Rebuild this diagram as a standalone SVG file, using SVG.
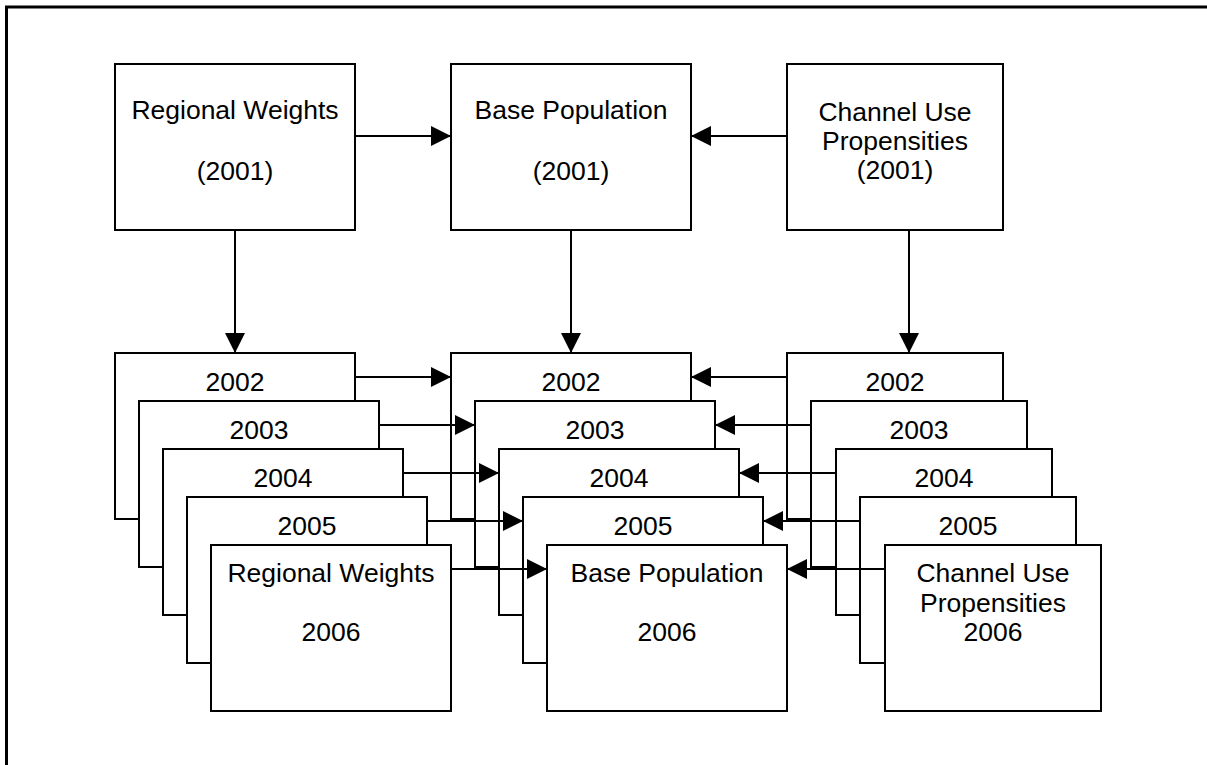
<svg xmlns="http://www.w3.org/2000/svg" width="1207" height="765" viewBox="0 0 1207 765">
<style>
.box{fill:#fff;stroke:#000;stroke-width:2}
.conn{stroke:#000;stroke-width:2;fill:none;marker-end:url(#ah)}
.frame{stroke:#000;stroke-width:3;fill:none}
text{font-family:"Liberation Sans",Arial,sans-serif;font-size:26.5px;text-anchor:middle;fill:#000}
</style>
<defs>
<marker id="ah" markerUnits="userSpaceOnUse" markerWidth="20" markerHeight="20" refX="20" refY="10" orient="auto" viewBox="0 0 20 20">
<path d="M0,0 L20,10 L0,20 z" fill="#000"/>
</marker>
</defs>
<rect width="1207" height="765" fill="#fff"/>
<path class="frame" d="M6.5,765 V7 H1207"/>

<g id="rw2001"><rect class="box" x="115" y="64" width="240" height="166"/><text x="235" y="119">Regional Weights</text><text x="235" y="180">(2001)</text></g>
<g id="bp2001"><rect class="box" x="451" y="64" width="240" height="166"/><text x="571" y="119">Base Population</text><text x="571" y="180">(2001)</text></g>
<g id="cup2001"><rect class="box" x="787" y="64" width="216" height="166"/><text x="895" y="121">Channel Use</text><text x="895" y="150">Propensities</text><text x="895" y="179">(2001)</text></g>

<g id="rw2002"><rect class="box" x="115" y="353" width="240" height="166"/><text x="235" y="390.5">2002</text></g>
<g id="rw2003"><rect class="box" x="139" y="401" width="240" height="166"/><text x="259" y="438.5">2003</text></g>
<g id="rw2004"><rect class="box" x="163" y="449" width="240" height="166"/><text x="283" y="486.5">2004</text></g>
<g id="rw2005"><rect class="box" x="187" y="497" width="240" height="166"/><text x="307" y="534.5">2005</text></g>
<g id="rw2006"><rect class="box" x="211" y="545" width="240" height="166"/><text x="331" y="582">Regional Weights</text><text x="331" y="641">2006</text></g>

<g id="bp2002"><rect class="box" x="451" y="353" width="240" height="166"/><text x="571" y="390.5">2002</text></g>
<g id="bp2003"><rect class="box" x="475" y="401" width="240" height="166"/><text x="595" y="438.5">2003</text></g>
<g id="bp2004"><rect class="box" x="499" y="449" width="240" height="166"/><text x="619" y="486.5">2004</text></g>
<g id="bp2005"><rect class="box" x="523" y="497" width="240" height="166"/><text x="643" y="534.5">2005</text></g>
<g id="bp2006"><rect class="box" x="547" y="545" width="240" height="166"/><text x="667" y="582">Base Population</text><text x="667" y="641">2006</text></g>

<g id="cup2002"><rect class="box" x="787" y="353" width="216" height="166"/><text x="895" y="390.5">2002</text></g>
<g id="cup2003"><rect class="box" x="811" y="401" width="216" height="166"/><text x="919" y="438.5">2003</text></g>
<g id="cup2004"><rect class="box" x="836" y="449" width="216" height="166"/><text x="944" y="486.5">2004</text></g>
<g id="cup2005"><rect class="box" x="860" y="497" width="216" height="166"/><text x="968" y="534.5">2005</text></g>
<g id="cup2006"><rect class="box" x="885" y="545" width="216" height="166"/><text x="993" y="582">Channel Use</text><text x="993" y="611.5">Propensities</text><text x="993" y="641">2006</text></g>

<g id="connectors">
<line class="conn" x1="355" y1="136" x2="451" y2="136"/>
<line class="conn" x1="787" y1="136" x2="691" y2="136"/>
<line class="conn" x1="235" y1="230" x2="235" y2="353"/>
<line class="conn" x1="571" y1="230" x2="571" y2="353"/>
<line class="conn" x1="909" y1="230" x2="909" y2="353"/>

<line class="conn" x1="355" y1="377" x2="451" y2="377"/>
<line class="conn" x1="379" y1="425" x2="475" y2="425"/>
<line class="conn" x1="403" y1="473" x2="499" y2="473"/>
<line class="conn" x1="427" y1="521" x2="523" y2="521"/>
<line class="conn" x1="451" y1="569" x2="547" y2="569"/>

<line class="conn" x1="787" y1="377" x2="691" y2="377"/>
<line class="conn" x1="811" y1="425" x2="715" y2="425"/>
<line class="conn" x1="836" y1="473" x2="739" y2="473"/>
<line class="conn" x1="860" y1="521" x2="763" y2="521"/>
<line class="conn" x1="885" y1="569" x2="787" y2="569"/>
</g>
</svg>
